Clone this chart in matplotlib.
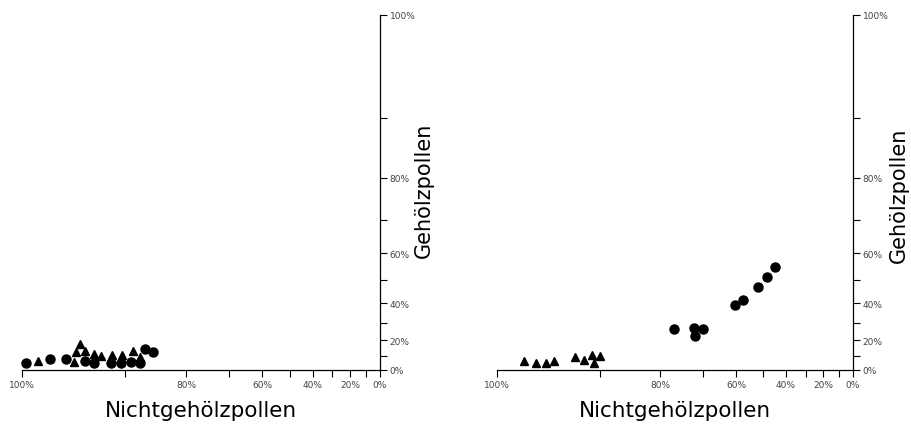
import numpy as np
import matplotlib
matplotlib.use('Agg')
import matplotlib.pyplot as plt
from matplotlib import font_manager

# values (NAP %, AP %)
left_circ_nap = [99.7, 97.9, 96.6, 94.7, 93.8, 91.9, 90.6, 89.3, 88.0, 87.2, 86.0]
left_circ_ap = [5.0, 8.0, 8.0, 6.4, 5.0, 5.1, 5.0, 6.1, 5.0, 14.4, 12.7]
left_tri_nap = [98.9, 95.3, 95.6, 94.7, 95.8, 93.8, 93.0, 91.7, 90.4, 88.9, 88.0]
left_tri_ap = [6.4, 17.8, 12.5, 13.1, 6.1, 11.5, 9.8, 10.7, 10.4, 13.5, 9.3]

right_circ_nap = [77.0, 72.4, 70.0, 72.0, 60.2, 57.6, 52.0, 48.4, 44.8]
right_circ_ap = [26.7, 27.1, 26.7, 22.5, 38.9, 41.6, 47.1, 51.5, 55.0]
right_tri_nap = [98.0, 97.0, 96.1, 95.3, 93.1, 92.0, 91.1, 90.0, 90.8]
right_tri_ap = [6.2, 5.0, 5.1, 6.2, 9.1, 7.5, 10.5, 9.8, 5.0]

major_ticks = [0, 20, 40, 60, 80, 100]
minor_ticks = [10, 30, 50, 70, 90]
tick_labels = ['%d%%' % t for t in major_ticks]

# narrow font if there is one, like the condensed type of the original
names = {f.name for f in font_manager.fontManager.ttflist}
if 'Liberation Sans Narrow' in names:
    label_font = ['Liberation Sans Narrow', 'DejaVu Sans']
else:
    label_font = ['DejaVu Sans']


# scale of the original: log of (110 - value)
def fwd(v):
    v = np.asarray(v, dtype=float)
    return -np.log10(np.clip(110 - v, 1e-6, None))


def inv(u):
    return 110 - 10 ** (-np.asarray(u, dtype=float))


def setup_axes(ax, ylab_x, ylab_y):
    ax.set_xscale('function', functions=(fwd, inv))
    ax.set_yscale('function', functions=(fwd, inv))
    ax.set_xlim(100, 0)
    ax.set_ylim(0, 100)
    ax.spines['top'].set_visible(False)
    ax.spines['left'].set_visible(False)
    for s in ['bottom', 'right']:
        ax.spines[s].set_linewidth(0.9)
    ax.yaxis.tick_right()
    ax.set_xticks(major_ticks)
    ax.set_xticklabels(tick_labels, family=label_font)
    ax.set_xticks(minor_ticks, minor=True)
    ax.set_yticks(major_ticks)
    ax.set_yticklabels(tick_labels, family=label_font)
    ax.set_yticks(minor_ticks, minor=True)
    ax.tick_params(which='both', direction='out', length=5, width=0.8)
    ax.tick_params(axis='both', labelsize=6.5, labelcolor='#444444', pad=2)
    ax.set_xlabel('Nichtgehölzpollen', fontsize=15.5, labelpad=8, family=label_font)
    ax.yaxis.set_label_position('right')
    ax.set_ylabel('Gehölzpollen', fontsize=15, family=label_font,
                  ha='center', va='center')
    ax.yaxis.set_label_coords(ylab_x, ylab_y)


fig = plt.figure(figsize=(9.12, 4.27), dpi=100)
ax1 = fig.add_axes([22 / 912, 56 / 427, 358 / 912, 355 / 427])
ax2 = fig.add_axes([497 / 912, 56 / 427, 356 / 912, 355 / 427])

setup_axes(ax1, 1.123, 0.51)
setup_axes(ax2, 1.129, 0.496)

ax1.plot(left_circ_nap, left_circ_ap, 'o', color='black', markersize=6.5, clip_on=False)
ax1.plot(left_tri_nap, left_tri_ap, '^', color='black', markersize=5.5, clip_on=False)
ax2.plot(right_circ_nap, right_circ_ap, 'o', color='black', markersize=6.5, clip_on=False)
ax2.plot(right_tri_nap, right_tri_ap, '^', color='black', markersize=5.5, clip_on=False)

fig.savefig('out.png', dpi=100, facecolor='white')
